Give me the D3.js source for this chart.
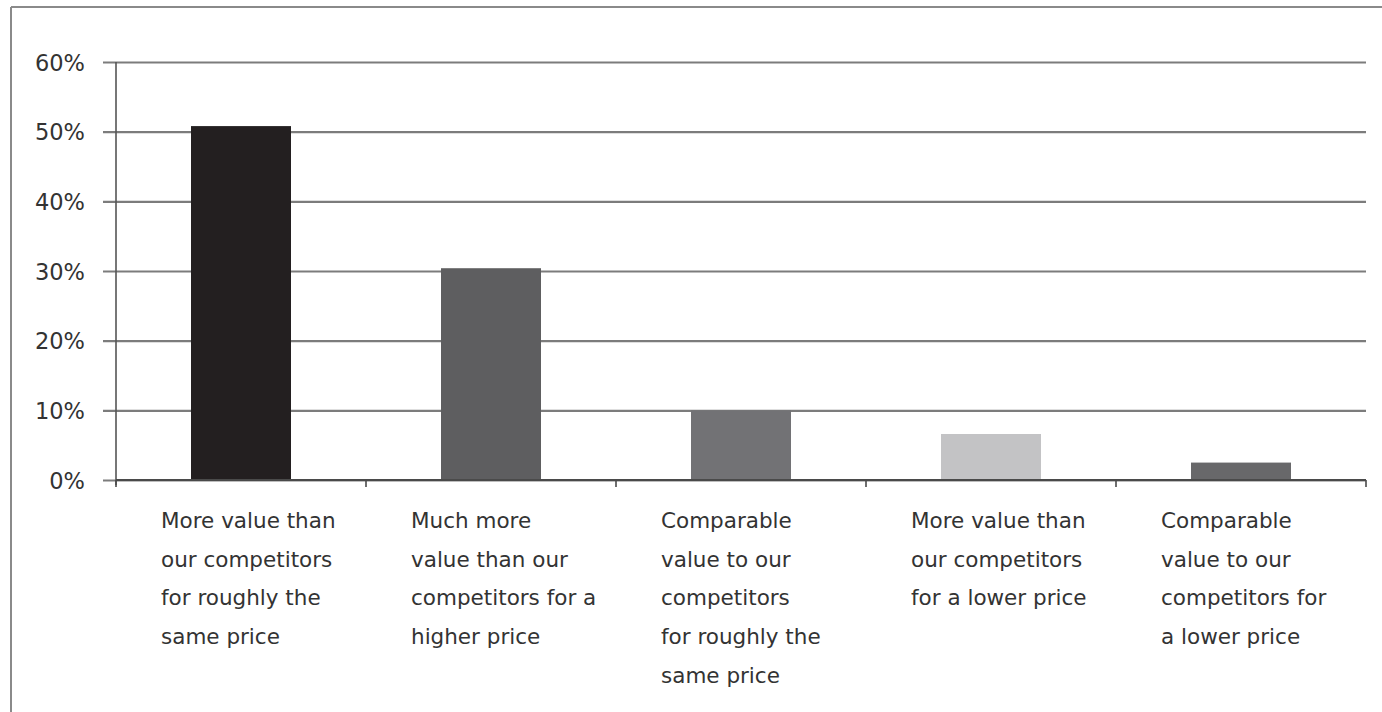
<!DOCTYPE html>
<html lang="en">
<head>
<meta charset="utf-8">
<script src="https://d3js.org/d3.v7.min.js"></script>
<style>
  body { margin: 0; background: #fff; }
  svg text { font-family: "DejaVu Sans", sans-serif; fill: #333; }
</style>
</head>
<body>
<div id="chart"></div>
<script>
// data
var categories = ["c1", "c2", "c3", "c4", "c5"];
var labels = [
  ["More value than", "our competitors", "for roughly the", "same price"],
  ["Much more", "value than our", "competitors for a", "higher price"],
  ["Comparable", "value to our", "competitors", "for roughly the", "same price"],
  ["More value than", "our competitors", "for a lower price"],
  ["Comparable", "value to our", "competitors for", "a lower price"]
];
var values = [0.508, 0.304, 0.10, 0.066, 0.025];
var barColors = ["#231f20", "#5e5e60", "#727275", "#c3c3c5", "#68686a"];
var yTicks = [0, 0.1, 0.2, 0.3, 0.4, 0.5, 0.6];

var W = 1382, H = 712;
var plotL = 116, plotR = 1366, plotT = 62, plotB = 480;

var svg = d3.select("#chart").append("svg").attr("width", W).attr("height", H);

// frame (top and left edge only)
svg.append("line").attr("x1", 11).attr("x2", W).attr("y1", 7).attr("y2", 7)
  .attr("stroke", "#8a8a8a").attr("stroke-width", 2);
svg.append("line").attr("x1", 11).attr("x2", 11).attr("y1", 7).attr("y2", H)
  .attr("stroke", "#8a8a8a").attr("stroke-width", 2);

var y = d3.scaleLinear().domain([0, 0.6]).range([plotB, plotT]);
var x = d3.scaleBand().domain(categories).range([plotL, plotR])
  .paddingInner(0.6).paddingOuter(0.3);

// gridlines + tick labels
var yAxis = svg.append("g").attr("transform", "translate(" + plotL + ",0)")
  .call(d3.axisLeft(y).tickValues(yTicks).tickFormat(d3.format(".0%"))
    .tickSize(-(plotR - plotL)).tickPadding(31));
yAxis.select(".domain").remove();
yAxis.selectAll(".tick line").attr("x1", -13)
  .attr("stroke", "#7c7c7c").attr("stroke-width", 2.2);
yAxis.selectAll(".tick text").style("font-size", "22.5px").attr("dy", "0.36em");

// vertical axis line
svg.append("line").attr("x1", plotL).attr("x2", plotL).attr("y1", plotT).attr("y2", plotB + 5)
  .attr("stroke", "#555").attr("stroke-width", 1.6);

// bars
svg.selectAll("rect.bar").data(values).enter().append("rect")
  .attr("class", "bar")
  .attr("x", function(d, i) { return x(categories[i]); })
  .attr("width", x.bandwidth())
  .attr("y", function(d) { return y(d); })
  .attr("height", function(d) { return y(0) - y(d); })
  .attr("fill", function(d, i) { return barColors[i]; });

// baseline with category separators
svg.append("line").attr("x1", plotL).attr("x2", plotR).attr("y1", y(0)).attr("y2", y(0))
  .attr("stroke", "#4a4a4a").attr("stroke-width", 2);
var bounds = d3.range(categories.length + 1).map(function(i) { return plotL + i * x.step(); });
svg.selectAll("line.sep").data(bounds).enter().append("line")
  .attr("class", "sep")
  .attr("x1", function(d) { return d; }).attr("x2", function(d) { return d; })
  .attr("y1", y(0)).attr("y2", y(0) + 7)
  .attr("stroke", "#4a4a4a").attr("stroke-width", 1.6);

// category labels, wrapped, left aligned
var lab = svg.selectAll("text.cat").data(labels).enter().append("text")
  .attr("class", "cat")
  .attr("x", function(d, i) { return plotL + i * x.step() + 45; })
  .attr("y", 528)
  .style("font-size", "21.5px");
lab.selectAll("tspan").data(function(d) { return d; }).enter().append("tspan")
  .attr("x", function() { return d3.select(this.parentNode).attr("x"); })
  .attr("dy", function(d, i) { return i === 0 ? 0 : 38.7; })
  .text(function(d) { return d; });
</script>
</body>
</html>
